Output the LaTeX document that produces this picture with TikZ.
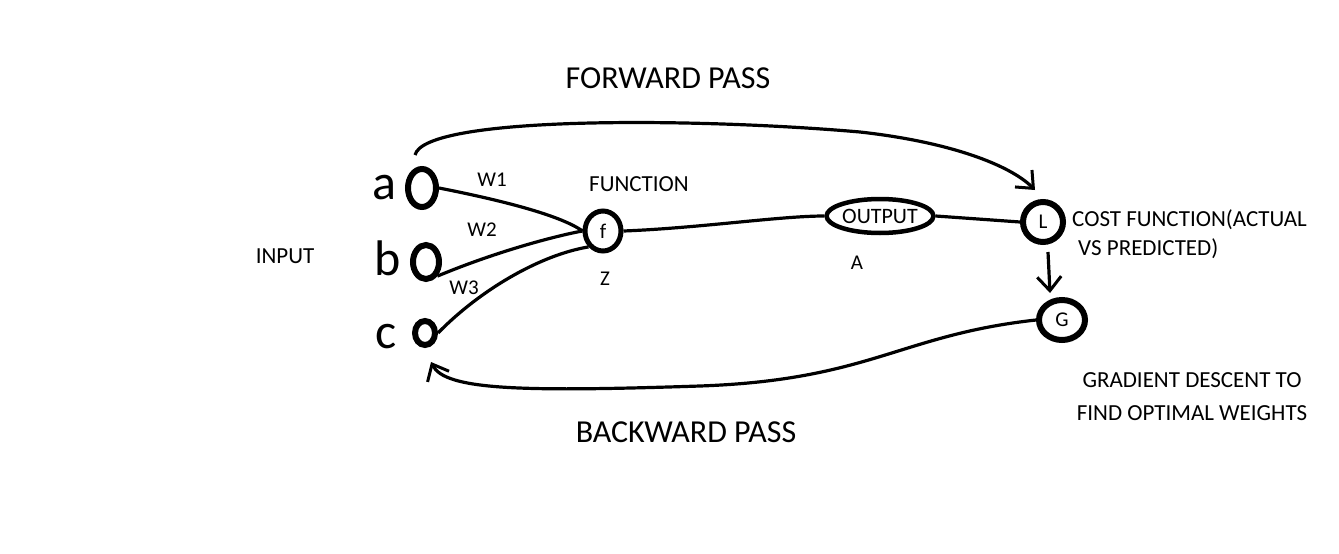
\documentclass[tikz,border=0pt]{standalone}
\usepackage{fontspec}
\setmainfont{Carlito}
\usetikzlibrary{shapes.geometric,arrows.meta}
\begin{document}
\begin{tikzpicture}[x=1pt,y=-1pt,
  lbl/.style={font=\fontsize{23}{26}\selectfont,inner sep=0pt},
  big/.style={font=\fontsize{32}{36}\selectfont,inner sep=0pt},
  letter/.style={font=\fontsize{50}{54}\selectfont,inner sep=0pt},
  neuron/.style={draw,line width=6pt,ellipse,inner sep=0pt},
  wire/.style={line width=3.2pt},
  tip/.style={-{Straight Barb[length=14pt,width=24pt,line width=3pt]}}]
\useasboundingbox (0,0) rectangle (1339,554);
\fill[white] (0,0) rectangle (1339,554);
% titles
\node[big] (fwd) at (668,78) {FORWARD PASS};
\node[big] (bwd) at (686,432) {BACKWARD PASS};
\node[lbl] (input) at (285,256) {INPUT};
% inputs
\node[letter,anchor=base] (la) at (384,199) {a};
\node[letter,anchor=base] (lb) at (388,275) {b};
\node[letter,anchor=base] (lc) at (386,348) {c};
\node[neuron,minimum width=28pt,minimum height=38pt] (a) at (422,188) {};
\node[neuron,minimum width=26pt,minimum height=34pt] (b) at (426,262) {};
\node[neuron,minimum width=20pt,minimum height=24pt] (c) at (425,333) {};
% weights
\node[lbl,font=\fontsize{21}{24}\selectfont] (w1) at (492,180) {W1};
\node[lbl,font=\fontsize{21}{24}\selectfont] (w2) at (482,230) {W2};
\node[lbl,font=\fontsize{21}{24}\selectfont] (w3) at (464,288) {W3};
% function node
\node[neuron,line width=5pt,minimum width=36pt,minimum height=40pt,font=\fontsize{21}{24}\selectfont] (f) at (603,231) {f};
\node[lbl] (fun) at (639,184) {FUNCTION};
\node[lbl,font=\fontsize{21}{24}\selectfont] (z) at (605,279) {Z};
% output
\node[neuron,line width=4.5pt,minimum width=100pt,minimum height=34pt,font=\fontsize{22}{24}\selectfont] (out) at (880,216) {OUTPUT};
\node[lbl,font=\fontsize{21}{24}\selectfont] (aa) at (857,263) {A};
% loss
\node[neuron,minimum width=40pt,minimum height=40pt,font=\fontsize{21}{24}\selectfont] (L) at (1043,222) {L};
\node[lbl,anchor=west] (cost1) at (1072,220) {COST FUNCTION(ACTUAL};
\node[lbl,anchor=west] (cost2) at (1078,249) {VS PREDICTED)};
% gradient
\node[neuron,minimum width=46pt,minimum height=40pt,font=\fontsize{21}{24}\selectfont] (G) at (1062,320) {G};
\node[lbl] (gd1) at (1192,380) {GRADIENT DESCENT TO};
\node[lbl] (gd2) at (1192,413) {FIND OPTIMAL WEIGHTS};
% connectors
\draw[wire] (a.east) .. controls (500,200) and (560,215) .. (f.west);
\draw[wire] (b.south east) .. controls (500,250) and (560,235) .. (f.west);
\draw[wire] (c.east) .. controls (480,290) and (540,255) .. (f.south west);
\draw[wire] (f.east) .. controls (700,228) and (780,216) .. (out.west);
\draw[wire] (out.east) -- (L.west);
\coordinate (lg1) at (1048,252);
\coordinate (lg2) at (1050,293);
\draw[wire,tip] (lg1) -- (lg2);
\coordinate (fstart) at (415,155);
\coordinate (fend) at (1035,190);
\draw[wire,tip] (fstart) .. controls (425,115) and (700,118) .. (860,132) .. controls (950,142) and (1010,165) .. (fend);
\coordinate (bend) at (431,362);
\draw[wire,tip] (G.west) .. controls (900,335) and (870,380) .. (700,386) .. controls (520,392) and (445,390) .. (bend);
\end{tikzpicture}
\end{document}
